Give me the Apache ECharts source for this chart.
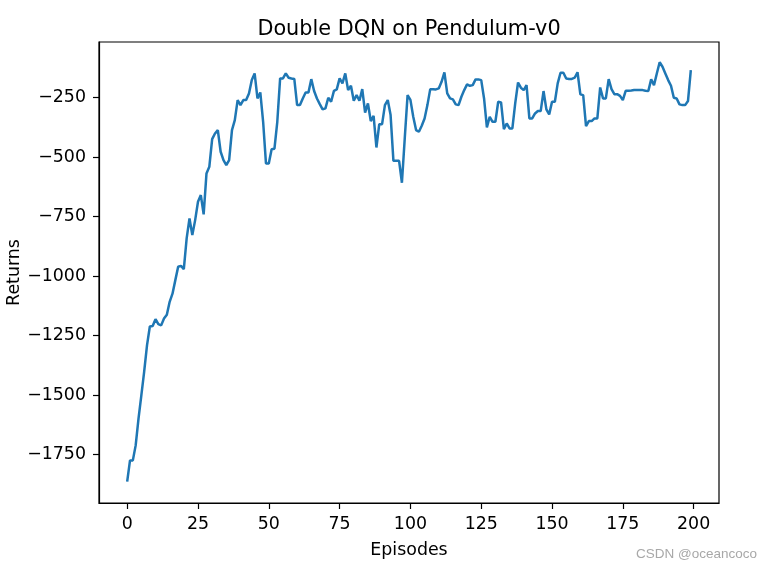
<!DOCTYPE html>
<html>
<head>
<meta charset="utf-8">
<script src="https://cdn.jsdelivr.net/npm/echarts@6/dist/echarts.min.js"></script>
<style>html,body{margin:0;padding:0;background:#fff}#c{width:773px;height:570px}</style>
</head>
<body>
<div id="c"></div>
<script>
const titleText = 'Double DQN on Pendulum-v0';
const xName = 'Episodes';
const yName = 'Returns';
const xTicks = [0, 25, 50, 75, 100, 125, 150, 175, 200];
const yTicks = [-1750, -1500, -1250, -1000, -750, -500, -250];
const returns = [
 -1863, -1774, -1774, -1711, -1599, -1501, -1401, -1291, -1212, -1210,
 -1181, -1202, -1207, -1178, -1162, -1108, -1074, -1017, -961, -957,
 -971, -842, -758, -828, -765, -688, -660, -741, -569, -541,
 -425, -401, -387, -478, -513, -534, -513, -387, -345, -261,
 -282, -261, -261, -233, -177, -149, -254, -229, -352, -527,
 -527, -467, -465, -352, -170, -170, -149, -167, -170, -172,
 -282, -282, -254, -229, -229, -173, -223, -254, -278, -300,
 -296, -251, -268, -222, -216, -170, -191, -149, -219, -201,
 -264, -240, -264, -215, -314, -275, -349, -327, -460, -362,
 -362, -282, -261, -324, -516, -516, -516, -608, -422, -240,
 -260, -331, -387, -394, -369, -338, -282, -215, -215, -216,
 -212, -184, -145, -233, -254, -258, -279, -282, -247, -219,
 -195, -201, -198, -174, -174, -177, -254, -376, -331, -352,
 -352, -268, -271, -383, -359, -380, -380, -275, -187, -209,
 -219, -198, -338, -338, -317, -307, -307, -223, -300, -321,
 -268, -268, -191, -146, -146, -170, -172, -172, -167, -144,
 -237, -240, -370, -349, -349, -338, -338, -208, -254, -254,
 -173, -215, -236, -236, -243, -261, -222, -222, -221, -219,
 -219, -219, -219, -222, -223, -174, -198, -149, -102, -121,
 -149, -177, -201, -251, -254, -279, -282, -282, -265, -135
];
const episodes = returns.map((_, i) => i);

const fmt = v => String(v).replace('-', '\u2212');
const font = 'DejaVu Sans';
const chart = echarts.init(document.getElementById('c'), null, {renderer: 'canvas'});
chart.setOption({
  animation: false,
  backgroundColor: '#fff',
  title: {
    text: titleText, left: 404, top: 14, textAlign: 'center',
    textStyle: {fontFamily: font, fontSize: 20.8, fontWeight: 'normal', color: '#000'}
  },
  grid: {left: 99, right: 54, top: 42, bottom: 67, containLabel: false, outerBoundsMode: 'none',
         show: true, borderColor: '#000', borderWidth: 1.2, backgroundColor: 'transparent'},
  xAxis: {
    type: 'value', min: -9.95, max: 208.95,
    name: xName, nameLocation: 'middle', nameGap: 39, nameMoveOverlap: false,
    nameTextStyle: {fontFamily: font, fontSize: 17.4, color: '#000'},
    axisLine: {show: true, onZero: false, lineStyle: {color: '#000', width: 1.2}},
    axisTick: {show: true, length: 6, lineStyle: {color: '#000', width: 1.2}, customValues: xTicks},
    axisLabel: {show: true, margin: 13, fontFamily: font, fontSize: 17.4, color: '#000', customValues: xTicks, formatter: fmt},
    splitLine: {show: false}
  },
  yAxis: {
    type: 'value', min: -1953, max: -17,
    name: yName, nameLocation: 'middle', nameGap: 76, nameRotate: 90, nameMoveOverlap: false,
    nameTextStyle: {fontFamily: font, fontSize: 17.4, color: '#000'},
    axisLine: {show: true, onZero: false, lineStyle: {color: '#000', width: 1.2}},
    axisTick: {show: true, length: 6, lineStyle: {color: '#000', width: 1.2}, customValues: yTicks},
    axisLabel: {show: true, margin: 13, fontFamily: font, fontSize: 17.4, color: '#000', customValues: yTicks, formatter: fmt},
    splitLine: {show: false}
  },
  series: [{
    type: 'line', data: episodes.map((e, i) => [e, returns[i]]),
    showSymbol: false, symbol: 'none',
    lineStyle: {color: '#1f77b4', width: 2.5}, itemStyle: {color: '#1f77b4'}
  }],
  graphic: [{
    type: 'text', right: 16, top: 547,
    style: {text: 'CSDN @oceancoco', fontFamily: 'Liberation Sans', fontSize: 13.5, fill: '#a8a8a8'}
  }]
});
</script>
</body>
</html>
